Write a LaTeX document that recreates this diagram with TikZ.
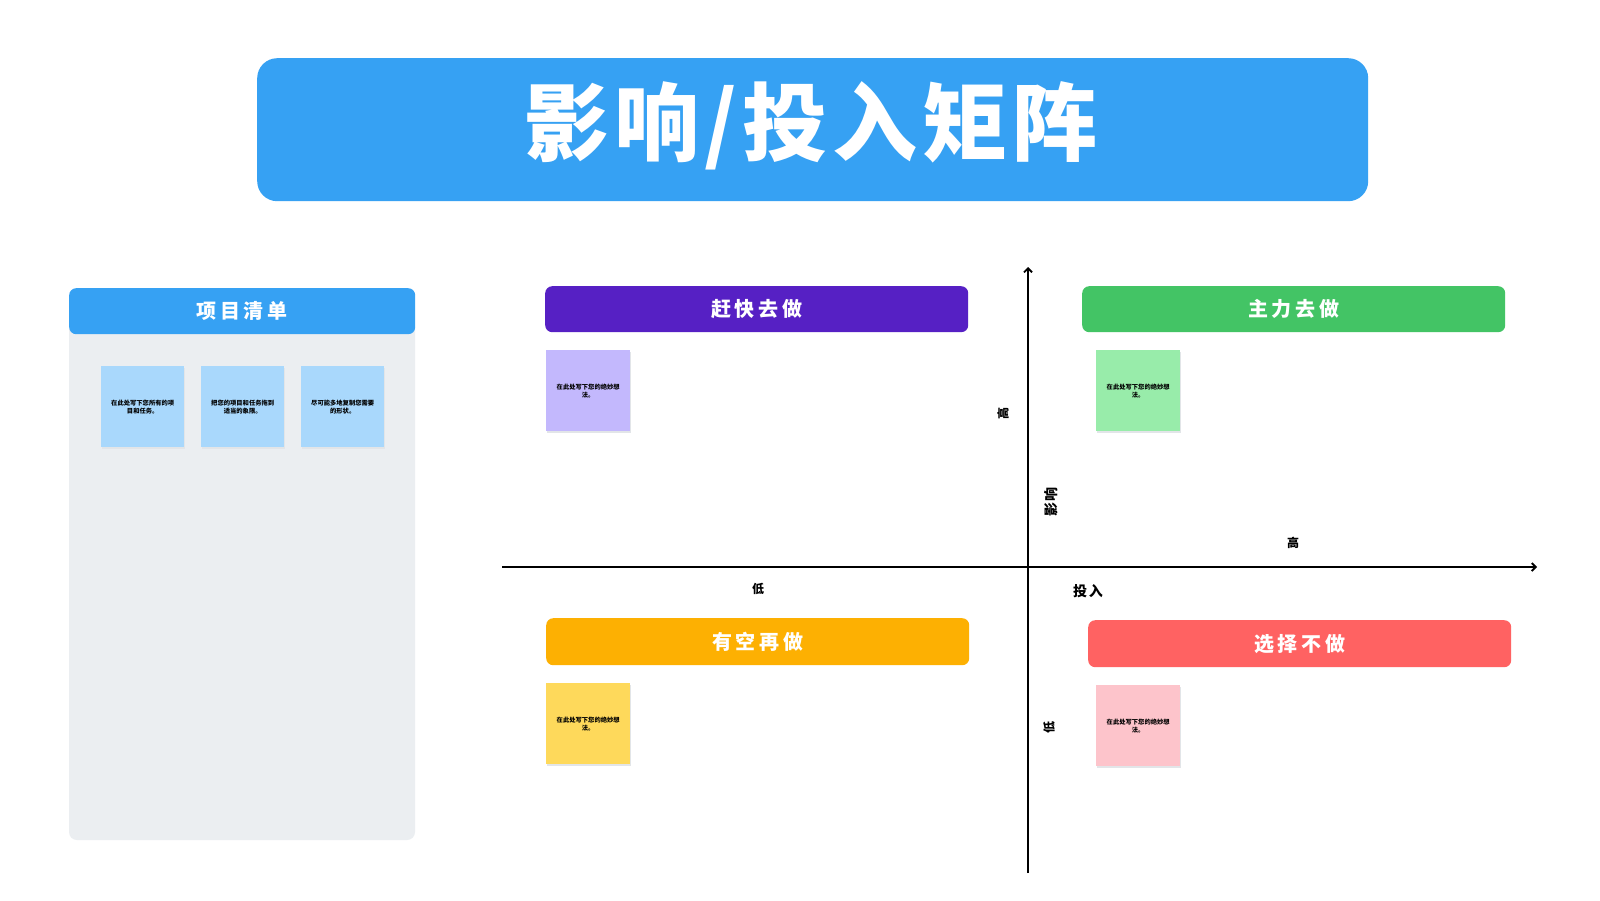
\documentclass[tikz,border=0pt]{standalone}
\usepackage{fontspec}
\setmainfont{Noto Sans CJK SC}
\newfontfamily\heavy{Noto Sans CJK SC Black}[LetterSpace=6]
\newfontfamily\spaced{Noto Sans CJK SC}[LetterSpace=18]
\newfontfamily\spacedsmall{Noto Sans CJK SC}[LetterSpace=12]
\usetikzlibrary{arrows.meta}
\definecolor{titleblue}{HTML}{36A1F3}
\definecolor{panelgray}{HTML}{EBEEF1}
\definecolor{stickyblue}{HTML}{A9D8FC}
\definecolor{qpurple}{HTML}{5620C4}
\definecolor{qgreen}{HTML}{43C465}
\definecolor{qorange}{HTML}{FDB002}
\definecolor{qred}{HTML}{FF6262}
\definecolor{spurple}{HTML}{C3B8FD}
\definecolor{sgreen}{HTML}{98ECAA}
\definecolor{syellow}{HTML}{FED95B}
\definecolor{spink}{HTML}{FDC4CB}
\definecolor{shadowgray}{HTML}{E2E5E8}
\tikzset{
  header/.style={rounded corners=7pt, inner sep=0pt},
  headtext/.style={text=white, inner sep=0pt, font=\spaced\bfseries\fontsize{20}{22}\selectfont},
  sticky/.style={inner sep=0pt, minimum width=84pt, minimum height=81pt,
    align=center, font=\fontsize{6.3}{8}\selectfont\bfseries, text=black},
  axislabel/.style={font=\fontsize{12}{14}\selectfont\bfseries, text=black, inner sep=0pt},
  axis/.style={line width=1.8pt, -{Straight Barb[length=4pt,width=8pt,line width=1.8pt]}}
}
\begin{document}
\begin{tikzpicture}[x=1pt,y=-1pt]
\useasboundingbox (0,0) rectangle (1600,900);
\fill[white] (0,0) rectangle (1600,900);
% title
\node[fill=titleblue, rounded corners=20pt, minimum width=1111pt, minimum height=143pt,
  inner sep=0pt, anchor=north west] (titlebox) at (257,58) {};
\node[text=white, font=\heavy\fontsize{85}{90}\selectfont, inner sep=0pt] (title)
  at (811,126) {影响/投入矩阵};
% left panel
\fill[panelgray, rounded corners=8pt] (69,320) rectangle (415,840);
\node[header, fill=titleblue, minimum width=346pt, minimum height=46pt, anchor=north west]
  (listhead) at (69,288) {};
\node[headtext] (listtitle) at (listhead.center) {项目清单};
% left stickies
\fill[shadowgray] (102,368) rectangle (185,449);
\node[sticky, fill=stickyblue, minimum width=83pt, anchor=north west] (s1) at (101,366)
  {在此处写下您所有的项\\目和任务。};
\fill[shadowgray] (202,368) rectangle (285,449);
\node[sticky, fill=stickyblue, minimum width=83pt, anchor=north west] (s2) at (201,366)
  {把您的项目和任务拖到\\适当的象限。};
\fill[shadowgray] (302,368) rectangle (385,449);
\node[sticky, fill=stickyblue, minimum width=83pt, anchor=north west] (s3) at (301,366)
  {尽可能多地复制您需要\\的形状。};
% quadrant headers
\node[header, fill=qpurple, minimum width=423pt, minimum height=46pt, anchor=north west]
  (q1) at (545,286) {};
\node[headtext] (q1t) at (q1.center) {赶快去做};
\node[header, fill=qgreen, minimum width=423pt, minimum height=46pt, anchor=north west]
  (q2) at (1082,286) {};
\node[headtext] (q2t) at (q2.center) {主力去做};
\node[header, fill=qorange, minimum width=423pt, minimum height=47pt, anchor=north west]
  (q3) at (546,618) {};
\node[headtext] (q3t) at (q3.center) {有空再做};
\node[header, fill=qred, minimum width=423pt, minimum height=47pt, anchor=north west]
  (q4) at (1088,620) {};
\node[headtext] (q4t) at (q4.center) {选择不做};
% quadrant stickies
\fill[shadowgray] (547,352) rectangle (631,433);
\node[sticky, fill=spurple, anchor=north west] (p1) at (546,350) {在此处写下您的绝妙想\\法。};
\fill[shadowgray] (1097,352) rectangle (1181,433);
\node[sticky, fill=sgreen, anchor=north west] (p2) at (1096,350) {在此处写下您的绝妙想\\法。};
\fill[shadowgray] (547,685) rectangle (631,766);
\node[sticky, fill=syellow, anchor=north west] (p3) at (546,683) {在此处写下您的绝妙想\\法。};
\fill[shadowgray] (1097,687) rectangle (1181,768);
\node[sticky, fill=spink, anchor=north west] (p4) at (1096,685) {在此处写下您的绝妙想\\法。};
% axes
\coordinate (vbot) at (1028,873);
\coordinate (vtop) at (1028,267);
\coordinate (hleft) at (502,567);
\coordinate (hright) at (1537,567);
\draw[axis] (vbot) -- (vtop);
\draw[axis] (hleft) -- (hright);
% axis labels
\node[axislabel, rotate=90] (yhigh) at (1003,413) {高};
\node[axislabel, rotate=90, font=\spacedsmall\fontsize{14}{16}\selectfont\bfseries] (ylab) at (1051,502) {影响};
\node[axislabel, rotate=90] (ylow) at (1049,727) {低};
\node[axislabel] (xhigh) at (1293,543) {高};
\node[axislabel] (xlow) at (758,589) {低};
\node[axislabel, font=\spacedsmall\fontsize{14}{16}\selectfont\bfseries] (xlab) at (1088,591) {投入};
\end{tikzpicture}
\end{document}
